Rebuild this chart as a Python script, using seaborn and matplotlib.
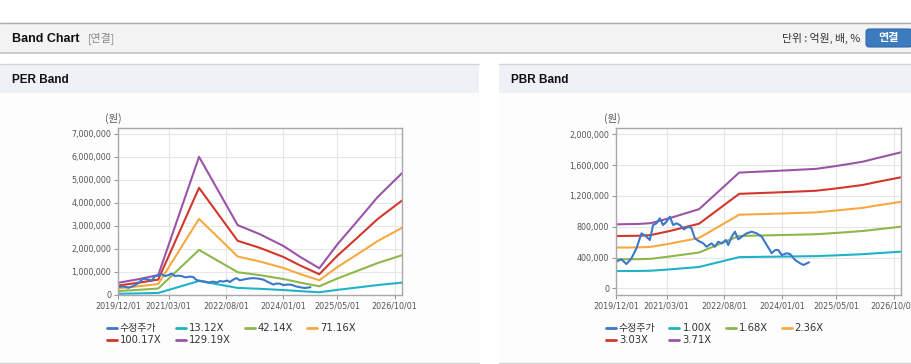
import matplotlib
matplotlib.use("Agg")
import matplotlib.pyplot as plt
import matplotlib.dates as mdates
from matplotlib.lines import Line2D
from matplotlib.patches import Rectangle, FancyBboxPatch
from matplotlib.ticker import FuncFormatter
import seaborn as sns
import pandas as pd

# ---- values (won) ----
per_dates = ["2019-12-01", "2020-06-01", "2020-11-28", "2021-12-01", "2022-11-15", "2023-06-01",
             "2024-01-01", "2024-06-01", "2024-11-20", "2025-05-01", "2025-11-01", "2026-05-01", "2026-12-06"]
per_labels = ["13.12X", "42.14X", "71.16X", "100.17X", "129.19X"]
per_1312 = [54000, 70000, 88000, 610000, 308000, 269000, 216000, 168000, 118000, 223000, 328000, 433000, 538000]
per_4214 = [173000, 223000, 282000, 1960000, 990000, 864000, 695000, 539000, 379000, 716000, 1054000, 1391000, 1728000]
per_7116 = [292000, 377000, 477000, 3309000, 1672000, 1459000, 1174000, 911000, 640000, 1210000, 1779000, 2348000, 2918000]
per_10017 = [411000, 531000, 671000, 4658000, 2354000, 2053000, 1653000, 1282000, 902000, 1703000, 2504000, 3306000, 4107000]
per_12919 = [530000, 685000, 866000, 6007000, 3036000, 2648000, 2132000, 1654000, 1163000, 2196000, 3230000, 4263000, 5297000]

pbr_dates = ["2019-12-01", "2020-06-10", "2020-10-08", "2021-03-22", "2021-12-17", "2022-08-08", "2022-12-12",
             "2024-01-03", "2024-11-01", "2025-05-01", "2025-12-27", "2026-04-26", "2026-12-06"]
pbr_labels = ["1.00X", "1.68X", "2.36X", "3.03X", "3.71X"]
pbr_100 = [224000, 225000, 228000, 245000, 277000, 360000, 405000, 412000, 418000, 428000, 443000, 455000, 476000]
pbr_168 = [376000, 378000, 383000, 412000, 465000, 605000, 680000, 692000, 702000, 719000, 744000, 764000, 800000]
pbr_236 = [529000, 531000, 538000, 578000, 654000, 850000, 956000, 972000, 986000, 1010000, 1045000, 1074000, 1123000]
pbr_303 = [679000, 682000, 691000, 742000, 839000, 1091000, 1227000, 1248000, 1267000, 1297000, 1342000, 1379000, 1442000]
pbr_371 = [831000, 835000, 846000, 909000, 1028000, 1336000, 1503000, 1529000, 1551000, 1588000, 1644000, 1688000, 1766000]

price_dates = ["2019-12-01", "2020-01-19", "2020-03-04", "2020-04-18", "2020-06-02", "2020-07-17", "2020-08-31",
               "2020-09-30", "2020-10-29", "2020-11-29", "2020-12-29", "2021-01-27", "2021-02-27", "2021-03-29",
               "2021-04-28", "2021-05-28", "2021-06-27", "2021-08-02", "2021-09-10", "2021-10-10", "2021-11-09",
               "2021-12-09", "2022-01-23", "2022-02-22", "2022-04-08", "2022-05-08", "2022-06-07", "2022-07-08",
               "2022-08-15", "2022-09-05", "2022-10-06", "2022-11-04", "2022-12-04", "2023-01-04", "2023-02-18",
               "2023-04-04", "2023-05-19", "2023-07-03", "2023-08-17", "2023-10-01", "2023-10-31", "2023-11-29",
               "2023-12-30", "2024-02-13", "2024-03-14", "2024-04-28", "2024-06-12", "2024-07-12", "2024-09-01"]
price = [346000, 376000, 315000, 390000, 519000, 714000, 670000, 627000, 822000, 844000, 909000, 822000,
         865000, 930000, 822000, 844000, 822000, 766000, 800000, 779000, 649000, 618000, 584000, 540000,
         584000, 540000, 605000, 584000, 627000, 562000, 670000, 735000, 636000, 670000, 714000, 735000,
         714000, 670000, 562000, 455000, 497000, 497000, 432000, 455000, 445000, 368000, 325000, 303000, 338000]

band_colors = ["#1fb3c8", "#8db74b", "#f7a941", "#d2372c", "#9a55a6"]
price_color = "#3b78c9"
price_label = "수정주가"

sns.set_style("whitegrid")
plt.rcParams["font.family"] = ["DejaVu Sans", "Noto Sans CJK KR"]


def long_frame(dates, labels, series):
    parts = [pd.DataFrame({"date": pd.to_datetime(dates), "value": vals, "band": lab})
             for lab, vals in zip(labels, series)]
    return pd.concat(parts, ignore_index=True)


per_df = long_frame(per_dates, per_labels, [per_1312, per_4214, per_7116, per_10017, per_12919])
pbr_df = long_frame(pbr_dates, pbr_labels, [pbr_100, pbr_168, pbr_236, pbr_303, pbr_371])
price_df = pd.DataFrame({"date": pd.to_datetime(price_dates), "value": price})

W, H = 912, 364
fig = plt.figure(figsize=(W / 100, H / 100), dpi=100)

# page chrome drawn in pixel coordinates
bg = fig.add_axes([0, 0, 1, 1], zorder=-5)
bg.set_xlim(0, W)
bg.set_ylim(H, 0)
bg.axis("off")
bg.add_patch(Rectangle((0, 22), W, 31, fc="#f3f3f3", ec="none"))
bg.plot([0, W], [22.5, 22.5], color="#b0b0b0", lw=1)
bg.plot([0, W], [52.5, 52.5], color="#c4c4c4", lw=1.2)
for x0, x1 in [(0, 479), (499, W)]:
    bg.add_patch(Rectangle((x0, 64), x1 - x0, 28.5, fc="#eef2f7", ec="none"))
    bg.add_patch(Rectangle((x0, 92.5), x1 - x0, 270, fc="#fdfdfd", ec="none"))
    bg.plot([x0, x1], [64, 64], color="#d4d4d4", lw=1)
    bg.plot([x0, x1], [362.5, 362.5], color="#d4d4d4", lw=1)

bg.text(12, 38.5, "Band Chart", fontsize=9, fontweight="bold", family="Liberation Sans",
        color="#111111", va="center", ha="left")
bg.text(88, 38.5, "[연결]", fontsize=7.8, family=["Noto Sans CJK KR"], color="#888888", va="center", ha="left")
bg.text(860, 38.5, "단위 : 억원, 배, %", fontsize=7.8, family=["Noto Sans CJK KR"], color="#333333",
        va="center", ha="right")
bg.add_patch(FancyBboxPatch((866, 29), 46, 18, boxstyle="round,pad=0,rounding_size=3",
                            fc="#3d7bbf", ec="#2f68a8", lw=0.8))
bg.text(889, 38, "연결", fontsize=8, fontweight="bold", family=["Noto Sans CJK KR"], color="white",
        va="center", ha="center")
bg.text(12, 80, "PER Band", fontsize=8.5, fontweight="bold", family="Liberation Sans", color="#111111",
        va="center", ha="left")
bg.text(511, 80, "PBR Band", fontsize=8.5, fontweight="bold", family="Liberation Sans", color="#111111",
        va="center", ha="left")


def frac(left, top, right, bottom):
    return [left / W, 1 - bottom / H, (right - left) / W, (bottom - top) / H]


xticks = pd.to_datetime(["2019-12-01", "2021-03-01", "2022-08-01", "2024-01-01", "2025-05-01", "2026-10-01"])
xlim = pd.to_datetime(["2019-12-01", "2026-12-06"])


def draw_panel(rect, df, labels, ylim, yticks, legend_xy, unit_xy):
    ax = fig.add_axes(rect)
    ax.set_facecolor("white")
    sns.lineplot(data=df, x="date", y="value", hue="band", hue_order=labels,
                 palette=band_colors, lw=1.5, legend=False, ax=ax)
    sns.lineplot(data=price_df, x="date", y="value", color=price_color, lw=1.5, ax=ax)
    ax.set_xlim(xlim[0], xlim[1])
    ax.set_ylim(*ylim)
    ax.set_xticks(xticks)
    ax.xaxis.set_major_formatter(mdates.DateFormatter("%Y/%m/%d"))
    ax.set_yticks(yticks)
    ax.yaxis.set_major_formatter(FuncFormatter(lambda v, p: f"{v:,.0f}"))
    ax.set_xlabel("")
    ax.set_ylabel("")
    ax.grid(True, color="#e6e6e6", lw=0.8)
    for sp in ax.spines.values():
        sp.set_color("#a8a8a8")
        sp.set_linewidth(1)
    ax.tick_params(bottom=True, left=True, length=3, width=0.8, color="#999999",
                   labelsize=5.8, labelcolor="#555555", pad=2)

    handles = [Line2D([], [], color=price_color, lw=2)] + \
              [Line2D([], [], color=c, lw=2) for c in band_colors]
    names = [price_label] + labels
    # reorder so that column-major filling reads row by row
    order = [0, 4, 1, 5, 2, 3]
    ax.legend([handles[i] for i in order], [names[i] for i in order],
              loc="upper left", bbox_to_anchor=(legend_xy[0] / W, 1 - legend_xy[1] / H),
              bbox_transform=fig.transFigure, ncol=4, frameon=False,
              handlelength=1.0, handletextpad=0.3, columnspacing=1.4, labelspacing=0.22,
              borderpad=0, borderaxespad=0, fontsize=7.2, labelcolor="#333333")
    fig.text(unit_xy[0] / W, 1 - unit_xy[1] / H, "(원)", fontsize=7.5, color="#555555",
             family=["Noto Sans CJK KR"], ha="center", va="center")
    return ax


draw_panel(frac(118, 128, 402, 295), per_df, per_labels, (0, 7260000),
           list(range(0, 7000001, 1000000)), (107, 323), (113, 118))
draw_panel(frac(616, 128, 901, 295), pbr_df, pbr_labels, (-87000, 2082000),
           list(range(0, 2000001, 400000)), (606, 323), (612, 118))

fig.savefig("out.png", dpi=100)
